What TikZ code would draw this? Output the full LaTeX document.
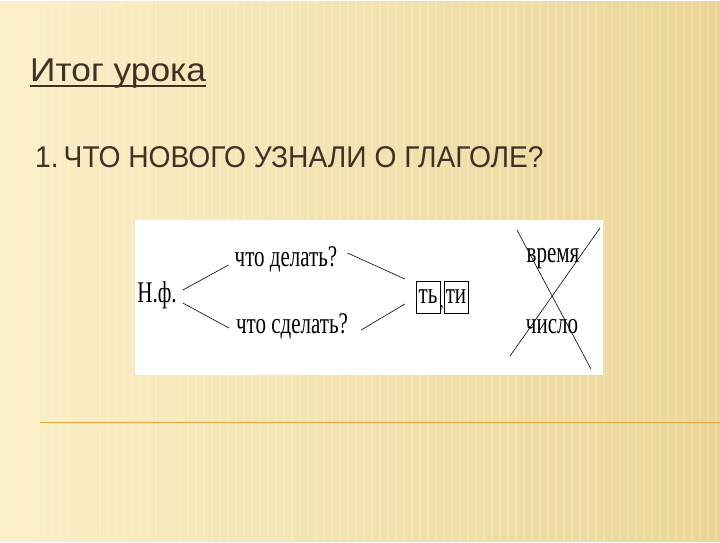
\documentclass[tikz,border=0pt]{standalone}
\usepackage{fontspec}
\setmainfont{Liberation Serif}
\newfontfamily\headfont[FakeStretch=0.94]{Liberation Sans}
\newfontfamily\titlefont[FakeStretch=1.07]{Liberation Sans}
\newfontfamily\schemefont[FakeStretch=0.7]{Liberation Serif}
\usetikzlibrary{positioning}
\definecolor{bgLeft}{HTML}{FBEFC6}
\definecolor{bgRight}{HTML}{EBD597}
\definecolor{headBrown}{HTML}{3E3226}
\definecolor{ruleOrange}{HTML}{E9A63C}
\tikzset{
    word/.style={font=\schemefont\fontsize{30}{30}\selectfont, inner sep=1pt},
    ending/.style={draw, thin, font=\schemefont\fontsize{30}{30}\selectfont,
        minimum width=24pt, minimum height=32pt, inner sep=0pt},
    link/.style={draw, semithick},
}
\newcommand\crossout[2]{
        \draw[semithick] (#1) -- (#2);
}

\begin{document}
\begin{tikzpicture}[x=1pt,y=-1pt]

    %draws background and fixes the size:
    \shade[left color=bgLeft, right color=bgRight] (0,0) rectangle (720,540);
    \foreach \x in {4,12,...,716} {
        \draw[white, opacity=0.18, line width=2pt] (\x,0) -- (\x,540);
    }
    \useasboundingbox (0,0) rectangle (720,540);

    %draws the headings:
    \node[anchor=base west, inner sep=0pt, text=headBrown,
          font=\titlefont\fontsize{33}{33}\selectfont] (title) at (30,80)
          {Итог урока};
    \path (title.base west) ++(0,5) coordinate (ulA)
          (title.base east) ++(0,5) coordinate (ulB);
    \draw[headBrown, line width=1.8pt] (ulA) -- (ulB);
    \node[anchor=base west, inner sep=0pt, text=headBrown,
          font=\headfont\fontsize{30}{30}\selectfont] (question) at (35,166)
          {1.\,ЧТО НОВОГО УЗНАЛИ О ГЛАГОЛЕ?};

    %draws the scheme:
    \begin{scope}
        \fill[white] (135,219) rectangle (603,374);

        \node[word] (nf)   at (157,294) {Н.ф.};
        \node[word] (qOne) at (286,258) {что делать?};
        \node[word] (qTwo) at (292,325) {что сделать?};

        \node[ending] (ty) at (428,296) {ть};
        \node[ending] (ti) at (456,296) {ти};
        \node[font=\schemefont\fontsize{18}{18}\selectfont, inner sep=0pt,
              anchor=north] (comma) at (442,304) {,};

        \node[word] (time)   at (553,258) {время};
        \node[word] (number) at (552,326) {число};

        \draw[link] ([xshift=5pt,yshift=5pt]nf.east) -- ([xshift=-5pt,yshift=-6pt]qOne.west);
        \draw[link] ([xshift=5pt,yshift=-8pt]nf.east) -- ([xshift=-6pt,yshift=-2pt]qTwo.west);
        \draw[link] ([xshift=9pt,yshift=6pt]qOne.east) -- ([xshift=-11pt,yshift=18pt]ty.west);
        \draw[link] ([xshift=12pt,yshift=-4pt]qTwo.east) -- ([xshift=-11pt,yshift=-7pt]ty.west);

        \coordinate (crossA) at (517,229);
        \coordinate (crossB) at (591,368);
        \coordinate (crossC) at (600,227);
        \coordinate (crossD) at (510,355);
        \crossout{crossA}{crossB};
        \crossout{crossC}{crossD};
    \end{scope}

    %draws the orange rule:
    \draw[ruleOrange, line width=1pt] (40,421) -- (720,421);

\end{tikzpicture}
\end{document}
